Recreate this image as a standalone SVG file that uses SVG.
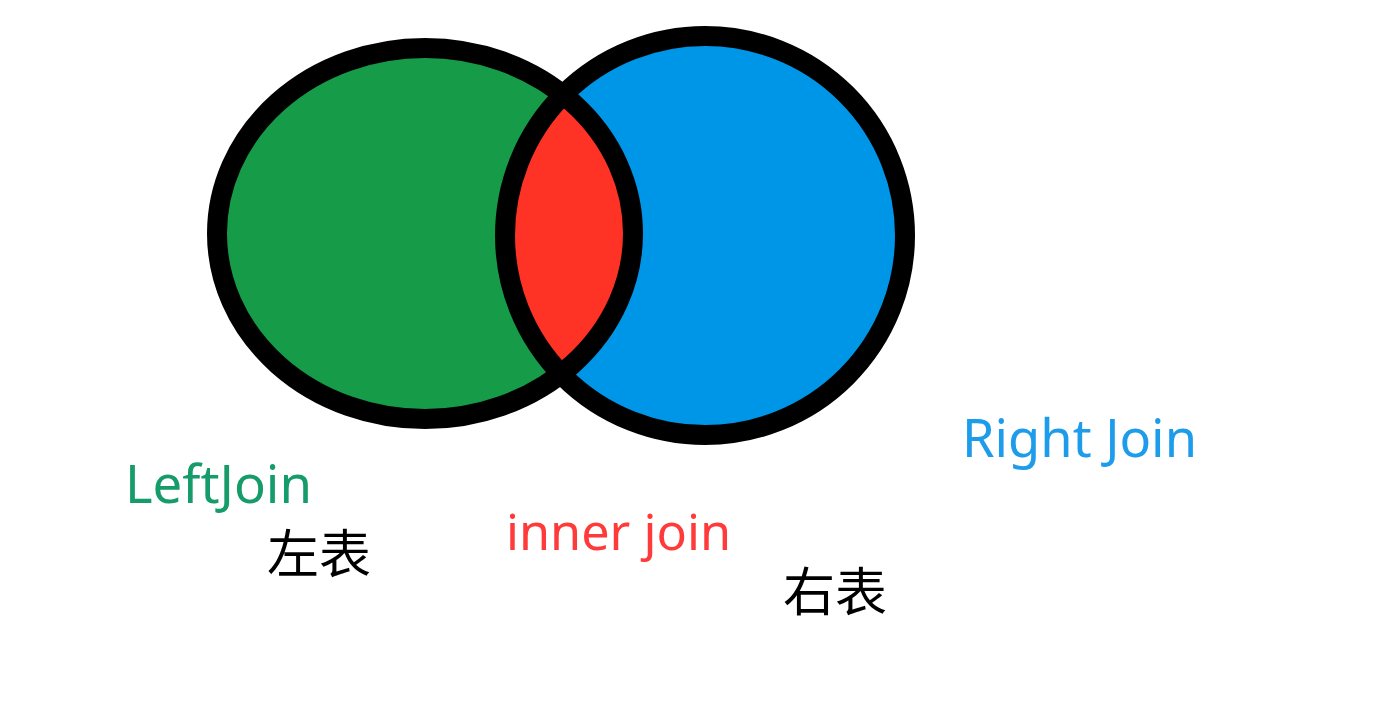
<svg xmlns="http://www.w3.org/2000/svg" width="1397" height="725" viewBox="0 0 1397 725">
<style>
.lbl{font-family:"Noto Sans","Open Sans","Liberation Sans",sans-serif;}
.cjk{font-family:"Noto Sans CJK SC","Noto Sans",sans-serif;font-size:52px;fill:#000;}
.ring{fill:none;stroke:#000;stroke-width:20;}
</style>
<defs>
<clipPath id="clipL"><ellipse cx="425" cy="233.5" rx="208" ry="185.5"/></clipPath>
</defs>
<rect width="1397" height="725" fill="#fff"/>
<g id="left-table">
<ellipse cx="425" cy="233.5" rx="208" ry="185.5" fill="#169b48"/>
</g>
<g id="right-table">
<ellipse cx="705" cy="235.5" rx="200" ry="199.5" fill="#0096e8"/>
</g>
<g id="inner">
<ellipse cx="705" cy="235.5" rx="200" ry="199.5" fill="#ff3226" clip-path="url(#clipL)"/>
</g>
<g id="outlines">
<ellipse class="ring" cx="425" cy="233.5" rx="208" ry="185.5"/>
<ellipse class="ring" cx="705" cy="235.5" rx="200" ry="199.5"/>
</g>
<g id="labels">
<text class="lbl" x="125" y="503" font-size="52" textLength="187" lengthAdjust="spacingAndGlyphs" fill="#169b6a">LeftJoin</text>
<text class="lbl" x="962" y="457" font-size="52" textLength="235" lengthAdjust="spacingAndGlyphs" fill="#1e9cec">Right Join</text>
<text class="lbl" x="506" y="550" font-size="50" textLength="225" lengthAdjust="spacingAndGlyphs" fill="#ff3a3a">inner join</text>
<text class="cjk" x="267" y="573">左表</text>
<text class="cjk" x="783" y="611">右表</text>
</g>
</svg>
